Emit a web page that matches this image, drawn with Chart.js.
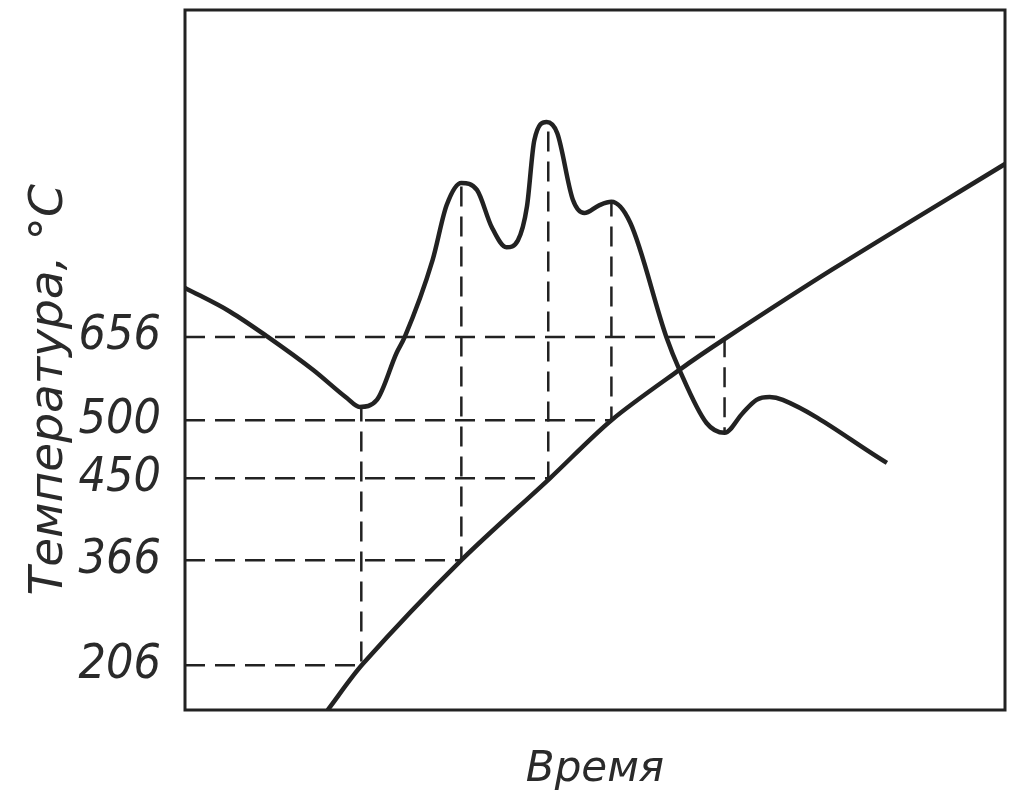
<!DOCTYPE html>
<html>
<head>
<meta charset="utf-8">
<script src="https://cdn.jsdelivr.net/npm/chart.js@4"></script>
<style>
  body { margin: 0; background: #fff; }
  #wrap { width: 1016px; height: 796px; }
</style>
</head>
<body>
<div id="wrap"><canvas id="tempChart"></canvas></div>
<script>
// temperature labels on the axis and where they sit on the (schematic) scale
const tickTemps = [206, 366, 450, 500, 656];
const tickLevels = [6.4, 21.4, 33.1, 41.4, 53.3];

// wavy curve
const waveTime = [0, 5.5, 10.1, 15.6, 19.7, 21.3, 23.4, 25.8, 26.8, 30.2, 31.9, 33.7, 35.6, 37.4, 39.2, 40.6, 41.7, 42.6, 44.1, 45.4, 47.3, 48.7, 50.5, 52.0, 54.3, 58.7, 60.3, 63.6, 65.8, 68.0, 69.7, 71.3, 72.9, 85.6];
const waveLevel = [60.3, 56.9, 53.3, 48.6, 44.6, 43.3, 44.3, 51.0, 53.3, 64.3, 72.1, 75.3, 74.3, 69.0, 66.1, 67.1, 71.9, 81.4, 84.0, 82.4, 72.9, 71.0, 72.1, 72.6, 69.6, 53.3, 48.6, 41.0, 39.6, 42.4, 44.3, 44.7, 44.3, 35.3];

// rising curve
const riseTime = [17.4, 21.7, 33.7, 44.5, 52.0, 60.3, 65.8, 78.9, 100];
const riseLevel = [0, 6.6, 21.4, 33.1, 41.4, 48.6, 53.0, 62.9, 78.0];

// dashed projections: time of each mark and the wavy-curve level it starts from
const markTime = [21.5, 33.7, 44.3, 52.0, 65.8];
const markLevel = [43.3, 75.3, 84.0, 72.6, 39.6];

const ink = '#222';

function toPoints(xs, ys) {
  return xs.map((x, i) => ({ x: x, y: ys[i] }));
}

const guideSets = tickLevels.map((lvl, i) => ({
  data: [
    { x: 0, y: lvl },
    { x: markTime[i], y: lvl },
    { x: markTime[i], y: markLevel[i] },
  ],
  borderColor: ink,
  borderWidth: 2.5,
  borderDash: [20, 10],
  pointRadius: 0,
  tension: 0,
}));

const framePlugin = {
  id: 'frame',
  beforeDatasetsDraw(chart) {
    const { ctx, chartArea: a } = chart;
    ctx.save();
    ctx.strokeStyle = ink;
    ctx.lineWidth = 3;
    ctx.strokeRect(a.left, a.top, a.right - a.left, a.bottom - a.top);
    ctx.restore();
  },
};

const ctx = document.getElementById('tempChart').getContext('2d');
new Chart(ctx, {
  type: 'line',
  data: {
    datasets: [
      {
        data: toPoints(waveTime, waveLevel),
        borderColor: ink,
        borderWidth: 4.5,
        pointRadius: 0,
        cubicInterpolationMode: 'monotone',
      },
      {
        data: toPoints(riseTime, riseLevel),
        borderColor: ink,
        borderWidth: 4.5,
        pointRadius: 0,
        tension: 0.3,
      },
      ...guideSets,
    ],
  },
  options: {
    responsive: true,
    maintainAspectRatio: false,
    animation: false,
    layout: { padding: { top: 10, right: 11, left: 0, bottom: 0 } },
    plugins: { legend: { display: false }, tooltip: { enabled: false } },
    scales: {
      x: {
        type: 'linear',
        min: 0,
        max: 100,
        grid: { display: false },
        border: { display: false },
        ticks: { display: false },
        title: {
          display: true,
          text: 'Время',
          color: '#2a2a2a',
          font: { family: 'DejaVu Sans', style: 'italic', size: 42, lineHeight: 1 },
          padding: { top: 0, bottom: 5 },
        },
        afterFit(scale) {
          scale.height = 86;
          scale.paddingLeft = 0;
          scale.paddingRight = 0;
        },
      },
      y: {
        type: 'linear',
        min: 0,
        max: 100,
        grid: { display: false },
        border: { display: false },
        afterBuildTicks(scale) {
          scale.ticks = tickLevels.map(v => ({ value: v }));
        },
        ticks: {
          padding: 16,
          color: '#2a2a2a',
          font: { family: "'DejaVu Sans Condensed', sans-serif", style: 'italic', size: 48 },
          callback: (value, index) => tickTemps[index],
        },
        title: {
          display: true,
          text: 'Температура, °C    ',
          color: '#2a2a2a',
          font: { family: 'DejaVu Sans', style: 'italic', size: 47, lineHeight: 1 },
          padding: { top: 26, bottom: 0 },
        },
        afterFit(scale) {
          scale.width = 185;
          scale.paddingTop = 0;
          scale.paddingBottom = 0;
        },
      },
    },
  },
  plugins: [framePlugin],
});
</script>
</body>
</html>
